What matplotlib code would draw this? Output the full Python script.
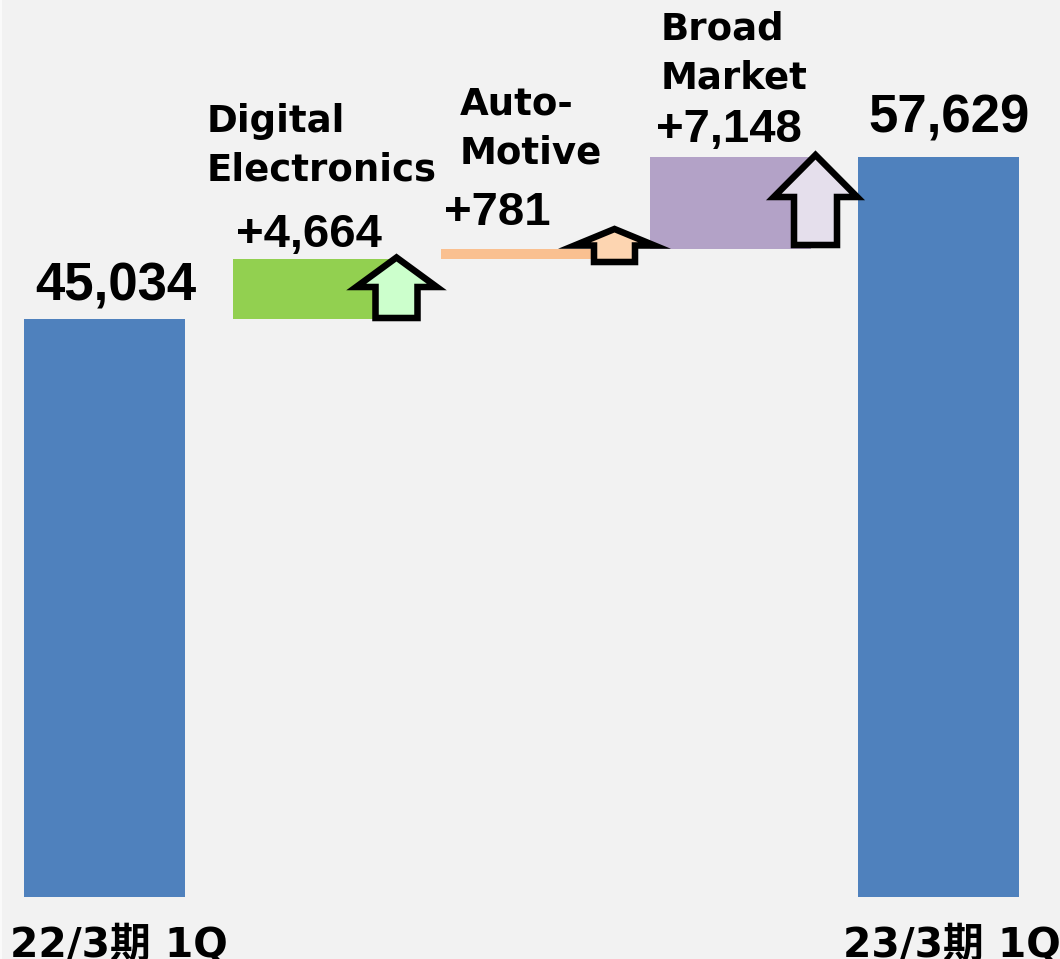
import matplotlib
matplotlib.use('Agg')
import matplotlib.pyplot as plt
from matplotlib.patches import Polygon, Rectangle

categories=['22/3期 1Q', 'Digital\nElectronics', 'Auto-\nMotive', 'Broad\nMarket', '23/3期 1Q']
values=[45034, 4664, 781, 7148, 57629]
value_labels=['45,034', '+4,664', '+781', '+7,148', '57,629']
bar_colors=['#4f81bd', '#92d050', '#fac090', '#b3a2c7', '#4f81bd']
arrow_colors=['#ccffcc', '#fdd5b1', '#e5dfec']

W, H=1060, 959
BASE_PX=897
PX_X=208.5
PX_Y=.012835

fig=plt.figure(figsize=(W/100, H/100), dpi=100, facecolor='#f2f2f2')
ax=fig.add_axes([2/W, (H-BASE_PX)/H, (W-2)/W, BASE_PX/H], facecolor='#f2f2f2')
ax.set_xlim((2-104.5)/PX_X, (W-104.5)/PX_X)
ax.set_ylim(0, BASE_PX/PX_Y)
for s in ax.spines.values():
    s.set_visible(False)
fig.add_artist(Rectangle((0, 0), 2/W, 1, transform=fig.transFigure, fc='#fafafa', ec='none'))

bottoms=[0, values[0], values[0]+values[1], values[0]+values[1]+values[2], 0]
ax.bar(range(5), values, bottom=bottoms, width=161/PX_X, color=bar_colors, linewidth=0)

def px(x_px, y_px):
    return (x_px-104.5)/PX_X, (BASE_PX-y_px)/PX_Y

# tick labels sit to the right of the bars in the original
ax.set_yticks([])
ax.set_xticks([px(119, 0)[0], px(951.5, 0)[0]], [categories[0], categories[4]])
ax.tick_params(axis='x', length=0, pad=21)
for lab in ax.get_xticklabels():
    lab.set_family(['DejaVu Sans', 'Noto Sans CJK JP'])
    lab.set_fontweight('bold')
    lab.set_fontsize(29.3)

def up_arrow(cx, tip, head, bottom, half_head, half_shaft, color):
    pts=[(cx, tip), (cx+half_head, head), (cx+half_shaft, head),
         (cx+half_shaft, bottom), (cx-half_shaft, bottom), (cx-half_shaft, head),
         (cx-half_head, head)]
    ax.add_patch(Polygon(
            [px(*p) for p in pts], closed=True, facecolor=color, edgecolor='k',
            linewidth=4.7, joinstyle='miter', zorder=3, clip_on=False,
            ))

up_arrow(396.5, 257.5, 287, 318, 40.3, 21, arrow_colors[0])
up_arrow(614.5, 229, 245.5, 262, 40, 20.5, arrow_colors[1])
up_arrow(815.5, 155, 197, 245, 41.7, 21.5, arrow_colors[2])

num={'family':'Liberation Sans', 'fontweight':'bold', 'color':'k', 'zorder':4}
ax.text(*px(116, 301), value_labels[0], fontsize=38, ha='center', va='baseline', **num)
ax.text(*px(949, 133), value_labels[4], fontsize=38, ha='center', va='baseline', **num)
ax.text(*px(236, 247), value_labels[1], fontsize=34, ha='left', va='baseline', **num)
ax.text(*px(444, 225), value_labels[2], fontsize=34, ha='left', va='baseline', **num)
ax.text(*px(656, 142), value_labels[3], fontsize=34, ha='left', va='baseline', **num)

name={'family':'DejaVu Sans', 'fontweight':'bold', 'color':'k', 'linespacing':1.42}
ax.text(*px(207, 181), categories[1], fontsize=26.7, ha='left', va='baseline', **name)
ax.text(*px(460, 164), categories[2], fontsize=26.7, ha='left', va='baseline', **name)
ax.text(*px(661, 89), categories[3], fontsize=26.7, ha='left', va='baseline', **name)

fig.savefig('out.png', dpi=100, facecolor=fig.get_facecolor())
